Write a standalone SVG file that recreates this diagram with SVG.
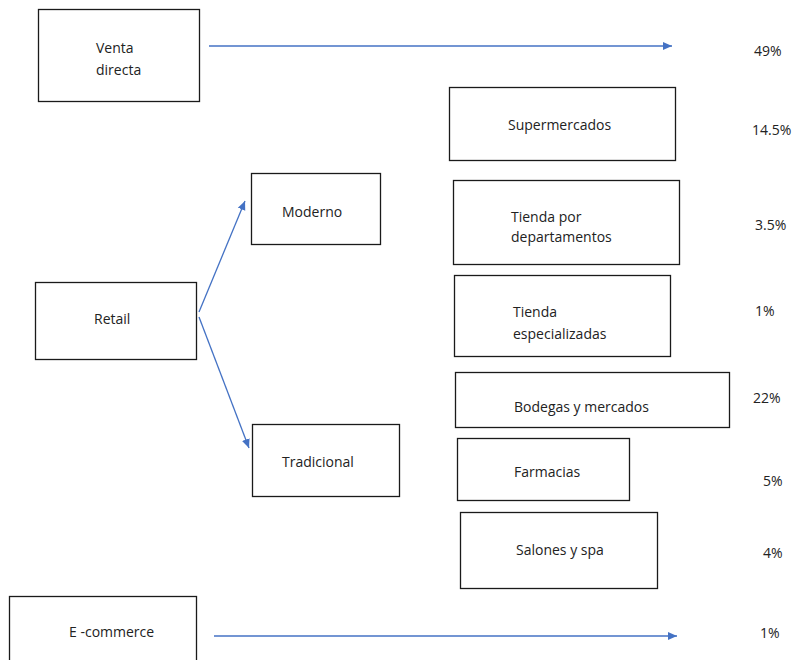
<svg xmlns="http://www.w3.org/2000/svg" width="798" height="660" viewBox="0 0 798 660">
<style>
.box{fill:#fff;stroke:#1a1a1a;stroke-width:1.3}
.t{font-family:"Open Sans","Liberation Sans",Arial,sans-serif;font-size:14px;fill:#222}
.c{stroke:#4472C4;stroke-width:1.3;fill:none}
</style>
<defs>
<marker id="ah" markerUnits="userSpaceOnUse" markerWidth="10" markerHeight="10" viewBox="0 0 10 10" refX="9" refY="5" orient="auto">
<path d="M0,1 L9,5 L0,9 Z" fill="#4472C4"/>
</marker>
</defs>
<rect width="798" height="660" fill="#fff"/>
<g id="venta"><rect class="box" x="38.5" y="9.5" width="161" height="92"/><text class="t" x="96" y="53">Venta</text><text class="t" x="96" y="75">directa</text></g>
<g id="retail"><rect class="box" x="35.5" y="282.5" width="161" height="77"/><text class="t" x="94" y="324">Retail</text></g>
<g id="ecommerce"><rect class="box" x="9.5" y="596.5" width="187" height="70"/><text class="t" x="69" y="637">E -commerce</text></g>
<g id="moderno"><rect class="box" x="251.5" y="173.5" width="129" height="71"/><text class="t" x="282" y="217">Moderno</text></g>
<g id="tradicional"><rect class="box" x="252.5" y="424.5" width="147" height="72"/><text class="t" x="282" y="467">Tradicional</text></g>
<g id="super"><rect class="box" x="449.5" y="87.5" width="226" height="73"/><text class="t" x="508" y="130">Supermercados</text></g>
<g id="dept"><rect class="box" x="453.5" y="180.5" width="226" height="84"/><text class="t" x="511" y="222">Tienda por</text><text class="t" x="511" y="242">departamentos</text></g>
<g id="espec"><rect class="box" x="454.5" y="275.5" width="216" height="81"/><text class="t" x="513" y="317">Tienda</text><text class="t" x="513" y="339">especializadas</text></g>
<g id="bodegas"><rect class="box" x="455.5" y="372.5" width="274" height="55"/><text class="t" x="514" y="412">Bodegas y mercados</text></g>
<g id="farmacias"><rect class="box" x="457.5" y="438.5" width="172" height="62"/><text class="t" x="514" y="477">Farmacias</text></g>
<g id="salones"><rect class="box" x="460.5" y="512.5" width="197" height="76"/><text class="t" x="516" y="555">Salones y spa</text></g>
<g id="pcts">
<text class="t" x="754" y="56">49%</text>
<text class="t" x="752" y="135">14.5%</text>
<text class="t" x="755" y="230">3.5%</text>
<text class="t" x="755" y="316">1%</text>
<text class="t" x="753" y="403">22%</text>
<text class="t" x="763" y="486">5%</text>
<text class="t" x="763" y="558">4%</text>
<text class="t" x="760" y="638">1%</text>
</g>
<g id="connectors">
<line class="c" x1="209" y1="46" x2="672" y2="46" marker-end="url(#ah)"/>
<line class="c" x1="199" y1="312" x2="245" y2="201" marker-end="url(#ah)"/>
<line class="c" x1="199" y1="317" x2="249" y2="448" marker-end="url(#ah)"/>
<line class="c" x1="214" y1="636" x2="677" y2="636" marker-end="url(#ah)"/>
</g>
</svg>
